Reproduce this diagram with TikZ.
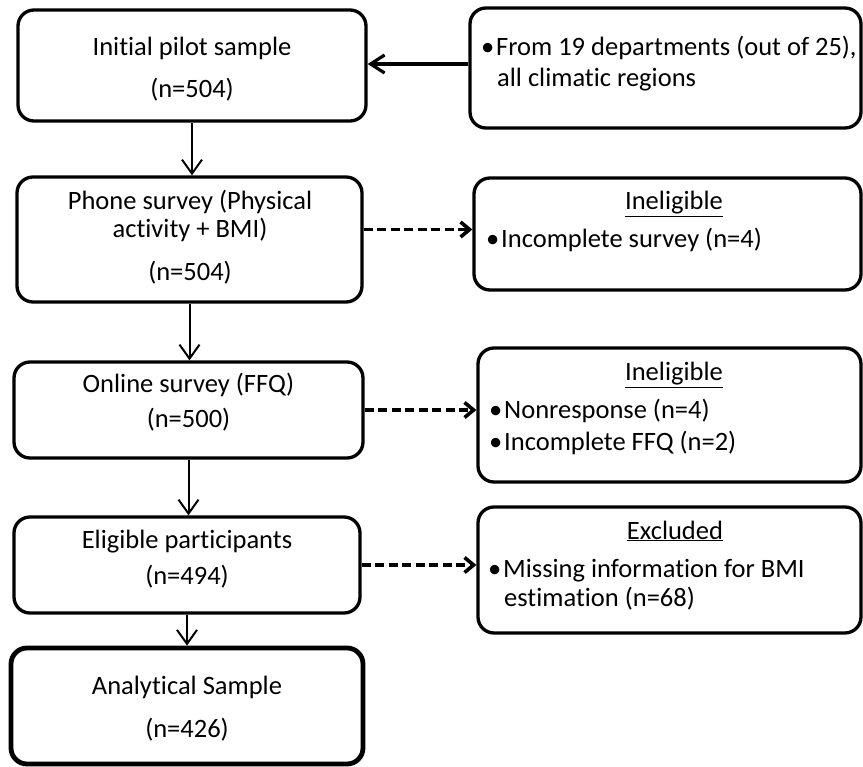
\documentclass[tikz,border=0pt]{standalone}
\usepackage{fontspec}
\setmainfont{Carlito}[Ligatures={NoCommon,NoContextual}, Contextuals=NoAlternate]
\usetikzlibrary{arrows.meta}
\newcommand{\itm}{\makebox[15pt][l]{\textbullet}}

\begin{document}
\begin{tikzpicture}[x=1pt,y=-1pt,
  box/.style={draw, line width=3.3pt, rounded corners=16pt, inner sep=0pt},
  txt/.style={anchor=base, inner sep=0pt, font=\fontsize{26.5}{30}\selectfont},
  lft/.style={txt, anchor=base west},
  flow/.style={-{Straight Barb[length=14pt,width=20pt]}, line width=2pt},
  feed/.style={-{Straight Barb[length=14pt,width=18pt]}, line width=3.2pt},
  drop/.style={-{Straight Barb[length=9pt,width=15pt]}, line width=3.6pt, dash pattern=on 9pt off 4.5pt}]
\useasboundingbox (0,0) rectangle (863,767);

% main stages
\node[box, minimum width=348pt, minimum height=111pt] (pilot) at (192,65.5) {};
\node[box, minimum width=345pt, minimum height=125pt] (phone) at (189.5,239.5) {};
\node[box, minimum width=349pt, minimum height=96pt] (online) at (188.5,410) {};
\node[box, minimum width=346pt, minimum height=96pt] (eligible) at (187,565) {};
\node[box, line width=4.8pt, minimum width=352pt, minimum height=116pt] (analytic) at (187,706) {};

\node[txt] (pilotA) at (192,56) {Initial pilot sample};
\node[txt] (pilotN) at (192,98) {(n=504)};
\node[txt] (phoneA) at (190,210) {Phone survey (Physical};
\node[txt] (phoneB) at (190,238) {activity + BMI)};
\node[txt] (phoneN) at (190,281) {(n=504)};
\node[txt] (onlineA) at (188.5,393) {Online survey (FFQ)};
\node[txt] (onlineN) at (188.5,428) {(n=500)};
\node[txt] (eligibleA) at (187,548) {Eligible participants};
\node[txt] (eligibleN) at (187,584) {(n=494)};
\node[txt] (analyticA) at (187,694) {Analytical Sample};
\node[txt] (analyticN) at (187,737) {(n=426)};

% side boxes
\node[box, minimum width=391pt, minimum height=120pt] (src) at (665.5,68) {};
\node[box, minimum width=387pt, minimum height=112pt] (inel1) at (667.5,234) {};
\node[box, minimum width=383pt, minimum height=134pt] (inel2) at (669.5,415) {};
\node[box, minimum width=383pt, minimum height=126pt] (excl) at (669.5,570) {};

\node[lft] (srcA) at (481,56) {\itm From 19 departments (out of 25),};
\node[lft] (srcB) at (497,87) {all climatic regions};
\node[txt] (inel1H) at (674,210) {\underline{Ineligible}};
\node[lft] (inel1A) at (486,248) {\itm Incomplete survey (n=4)};
\node[txt] (inel2H) at (674,381) {\underline{Ineligible}};
\node[lft] (inel2A) at (489,419) {\itm Nonresponse (n=4)};
\node[lft] (inel2B) at (489,450) {\itm Incomplete FFQ (n=2)};
\node[txt] (exclH) at (675,539) {\underline{Excluded}};
\node[lft] (exclA) at (488,577) {\itm Missing information for BMI};
\node[lft] (exclB) at (504,606) {estimation (n=68)};

% connectors
\draw[flow] (pilot.south) -- (pilot.south |- phone.north);
\draw[flow] (phone.south) -- (phone.south |- online.north);
\draw[flow] (online.south) -- (online.south |- eligible.north);
\draw[flow] (eligible.south) -- (eligible.south |- analytic.north);
\draw[feed] ([yshift=1.5pt]src.west |- pilot.east) -- ([yshift=1.5pt]pilot.east);
\draw[drop] ([yshift=10pt]phone.east) -- ([yshift=10pt]phone.east -| inel1.west);
\draw[drop] (online.east) -- (online.east -| inel2.west);
\draw[drop] (eligible.east) -- (eligible.east -| excl.west);
\end{tikzpicture}
\end{document}
